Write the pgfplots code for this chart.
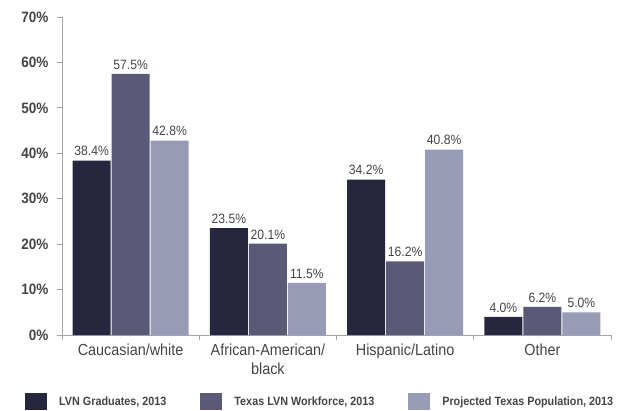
\documentclass[border=0pt]{standalone}
\usepackage{pgfplots}
\pgfplotsset{compat=1.18}
\usepackage{fontspec}
\setmainfont{Liberation Sans}[FakeStretch=0.9]
\definecolor{c1}{RGB}{38,38,62}
\definecolor{c2}{RGB}{90,90,120}
\definecolor{c3}{RGB}{152,155,182}
\definecolor{axgray}{RGB}{165,165,165}
\definecolor{txt}{RGB}{68,68,68}

\begin{document}
\begin{tikzpicture}
\useasboundingbox (-62pt,-75pt) rectangle (557pt,335pt);
\begin{axis}[
  scale only axis, width=549pt, height=318pt,
  at={(0pt,0pt)}, anchor=south west,
  ybar=1pt, bar width=38pt,
  xmin=-0.5, xmax=3.5, ymin=0, ymax=70,
  axis lines*=left,
  axis line style={axgray, line width=0.8pt},
  xtick={0,1,2,3},
  xticklabels={Caucasian/white, {African-American/\\black}, Hispanic/Latino, Other},
  xticklabel style={align=center, font=\fontsize{16}{19}\selectfont, text=txt},
  minor xtick={-0.5,0.5,1.5,2.5,3.5},
  major x tick style={draw=none},
  ytick={0,10,...,70},
  yticklabel={\pgfmathprintnumber{\tick}\%},
  yticklabel style={font=\bfseries\fontsize{15}{18}\selectfont, text=txt, xshift=-5pt},
  tick align=outside, major tick length=5pt, minor tick length=5pt,
  tick style={axgray, line width=0.8pt},
  /pgf/number format/assume math mode=true,
  nodes near coords={\pgfmathprintnumber[fixed,fixed zerofill,precision=1]{\pgfplotspointmeta}\%},
  every node near coord/.append style={font=\fontsize{13.5}{15}\selectfont, text=txt, yshift=1pt},
  legend columns=3,
  legend cell align=left,
  legend image code/.code={\fill[#1] (0pt,-8.5pt) rectangle (22pt,8.5pt);},
  legend style={at={(0,0)}, anchor=north west, xshift=-37pt, yshift=-58pt,
    draw=none, inner sep=0pt, fill=none,
    font=\bfseries\fontsize{12}{14}\selectfont, text=txt,
    /tikz/every odd column/.append style={column sep=10pt},
    /tikz/every even column/.append style={column sep=32pt}},
]
\addplot[fill=c1, draw=none] coordinates {(0,38.4) (1,23.5) (2,34.2) (3,4.0)};
\addplot[fill=c2, draw=none] coordinates {(0,57.5) (1,20.1) (2,16.2) (3,6.2)};
\addplot[fill=c3, draw=none] coordinates {(0,42.8) (1,11.5) (2,40.8) (3,5.0)};
\legend{{LVN Graduates, 2013}, {Texas LVN Workforce, 2013}, {Projected Texas Population, 2013}}
\end{axis}
\end{tikzpicture}
\end{document}
